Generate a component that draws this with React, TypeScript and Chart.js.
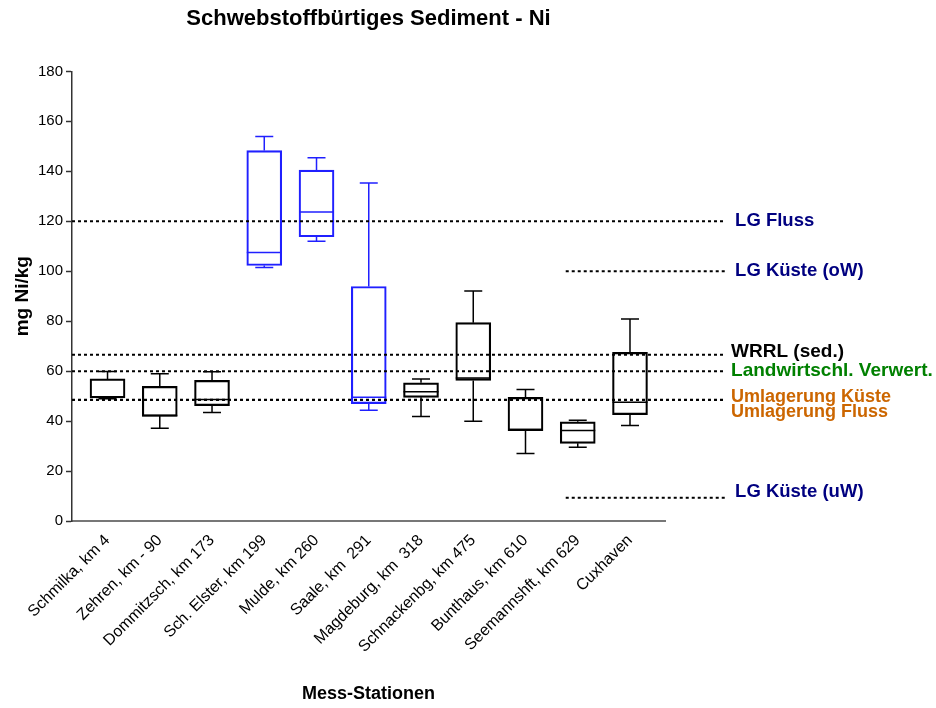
import React, { useEffect, useRef } from "react";
import { Chart, registerables } from "chart.js";

Chart.register(...registerables);

const stations = [
  "Schmilka, km 4",
  "Zehren, km - 90",
  "Dommitzsch, km 173",
  "Sch. Elster, km 199",
  "Mulde, km 260",
  "Saale, km  291",
  "Magdeburg, km  318",
  "Schnackenbg, km 475",
  "Bunthaus, km 610",
  "Seemannshft, km 629",
  "Cuxhaven",
];
const mins = [48.9, 37.1, 43.4, 101.5, 112.0, 44.3, 41.8, 39.9, 27.0, 29.5, 38.2];
const q1s = [49.3, 41.9, 46.2, 102.3, 113.8, 47.0, 49.5, 56.3, 36.2, 31.1, 42.6];
const medians = [49.6, 42.2, 48.6, 107.5, 123.7, 49.5, 51.7, 57.3, 36.6, 36.2, 47.5];
const q3s = [56.9, 53.9, 56.3, 148.3, 140.5, 93.9, 55.3, 79.4, 49.5, 39.7, 67.5];
const maxs = [59.9, 59.0, 59.8, 153.9, 145.4, 135.3, 56.9, 92.1, 52.6, 40.3, 80.9];
const boxColors = ["#000000", "#000000", "#000000", "#2020ff", "#2020ff", "#2020ff", "#000000", "#000000", "#000000", "#000000", "#000000"];

const yTicks = [0, 20, 40, 60, 80, 100, 120, 140, 160, 180];

const refNames = ["LG Fluss", "LG Küste (oW)", "WRRL (sed.)", "Landwirtschl. Verwert.", "Umlagerung Küste", "Umlagerung Fluss", "LG Küste (uW)"];
const refValues = [120, 100, 66.6, 60, 48.5, 48.5, 9.3];
const refFrom = [-0.68, 8.77, -0.68, -0.68, -0.68, -0.68, 8.77];
const refTo = [11.82, 11.82, 11.82, 11.82, 11.82, 11.82, 11.82];
const refColors = ["#000080", "#000080", "#000000", "#008000", "#cc6600", "#cc6600", "#000080"];

const FONT = "'Liberation Sans', Arial, sans-serif";

const boxPlugin = {
  id: "boxWhiskers",
  afterDatasetsDraw(chart: any) {
    const { ctx, scales } = chart;
    const xs = scales.x;
    const ys = scales.y;
    ctx.save();
    ctx.lineWidth = 1.5;
    for (let i = 0; i < stations.length; i++) {
      const x = xs.getPixelForValue(i);
      ctx.strokeStyle = boxColors[i];
      ctx.beginPath();
      ctx.moveTo(x, ys.getPixelForValue(q3s[i]));
      ctx.lineTo(x, ys.getPixelForValue(maxs[i]));
      ctx.moveTo(x - 9, ys.getPixelForValue(maxs[i]));
      ctx.lineTo(x + 9, ys.getPixelForValue(maxs[i]));
      ctx.moveTo(x, ys.getPixelForValue(q1s[i]));
      ctx.lineTo(x, ys.getPixelForValue(mins[i]));
      ctx.moveTo(x - 9, ys.getPixelForValue(mins[i]));
      ctx.lineTo(x + 9, ys.getPixelForValue(mins[i]));
      ctx.moveTo(x - 17.5, ys.getPixelForValue(medians[i]));
      ctx.lineTo(x + 17.5, ys.getPixelForValue(medians[i]));
      ctx.stroke();
    }
    ctx.restore();
  },
};

const refPlugin = {
  id: "refLines",
  afterDraw(chart: any) {
    const { ctx, scales } = chart;
    const xs = scales.x;
    const ys = scales.y;
    ctx.save();
    for (let i = 0; i < refValues.length; i++) {
      const y = ys.getPixelForValue(refValues[i]);
      const x0 = xs.getPixelForValue(refFrom[i]);
      const x1 = xs.getPixelForValue(refTo[i]);
      ctx.strokeStyle = "#000000";
      ctx.lineWidth = 2;
      ctx.setLineDash([3, 3]);
      ctx.beginPath();
      ctx.moveTo(x0, y);
      ctx.lineTo(x1, y);
      ctx.stroke();
      ctx.setLineDash([]);
      const name = refNames[i];
      const isLG = name.startsWith("LG");
      const isUml = name.startsWith("Umlagerung");
      let dy = 0;
      if (name === "WRRL (sed.)") dy = -3;
      if (name === "Umlagerung Küste") dy = -3;
      if (name === "Umlagerung Fluss") dy = 12;
      if (name === "LG Küste (uW)") dy = -6;
      const size = isLG ? 18.5 : isUml ? 18 : 19;
      ctx.fillStyle = refColors[i];
      ctx.font = `bold ${size}px ${FONT}`;
      ctx.textAlign = "left";
      ctx.textBaseline = "middle";
      ctx.fillText(name, x1 + (isLG ? 10 : 6), y + dy);
    }
    ctx.restore();
  },
};

export default function App() {
  const ref = useRef<HTMLCanvasElement>(null);
  useEffect(() => {
    if (!ref.current) return;
    const chart = new Chart(ref.current, {
      type: "bar",
      data: {
        datasets: [
          {
            data: stations.map((_, i) => ({ x: i, y: [q1s[i], q3s[i]] })) as any,
            backgroundColor: "rgba(0,0,0,0)",
            borderColor: boxColors,
            borderWidth: 1.5,
            borderSkipped: false,
            barThickness: 35,
          },
        ],
      },
      options: {
        responsive: false,
        animation: false,
        events: [],
        layout: { padding: { left: 0, right: 271, top: 0, bottom: 0 } },
        plugins: {
          legend: { display: false },
          tooltip: { enabled: false },
          title: {
            display: true,
            text: "Schwebstoffbürtiges Sediment - Ni",
            color: "#000",
            font: { family: FONT, size: 22, weight: "bold" },
            padding: { top: 6, bottom: 39 },
            fullSize: false,
          },
        },
        scales: {
          x: {
            type: "linear",
            offset: false,
            min: -0.68,
            max: 10.67,
            grid: { display: false, drawTicks: false, offset: false },
            border: { display: true, color: "#777777", width: 2 },
            ticks: {
              includeBounds: false,
              stepSize: 1,
              autoSkip: false,
              maxRotation: 45,
              minRotation: 45,
              padding: 10,
              color: "#000",
              font: { family: FONT, size: 16 },
              callback: (v: any) => (Number.isInteger(v) && stations[v] !== undefined ? stations[v] : ""),
            },
            title: {
              display: true,
              text: "Mess-Stationen",
              color: "#000",
              font: { family: FONT, size: 18, weight: "bold" },
              padding: { top: 0, bottom: 3 },
            },
            afterFit: (s: any) => {
              s.height = 187;
            },
          },
          y: {
            min: 0,
            max: 180,
            afterBuildTicks: (s: any) => {
              s.ticks = yTicks.map((v) => ({ value: v }));
            },
            grid: { drawOnChartArea: false, drawTicks: true, tickLength: 6, tickColor: "#333", tickWidth: 1.5 },
            border: { display: true, color: "#333333", width: 1.5 },
            ticks: {
              padding: 3,
              color: "#000",
              font: { family: FONT, size: 15 },
            },
            title: {
              display: true,
              text: "mg Ni/kg",
              color: "#000",
              font: { family: FONT, size: 19, weight: "bold" },
              padding: { top: 11, bottom: 0 },
            },
            afterFit: (s: any) => {
              s.width = 72;
            },
          },
        },
      },
      plugins: [boxPlugin, refPlugin],
    });
    return () => chart.destroy();
  }, []);
  return (
    <div style={{ position: "absolute", left: 0, top: 0, width: 936, height: 708 }}>
      <canvas ref={ref} width={936} height={708} style={{ display: "block" }} />
    </div>
  );
}
